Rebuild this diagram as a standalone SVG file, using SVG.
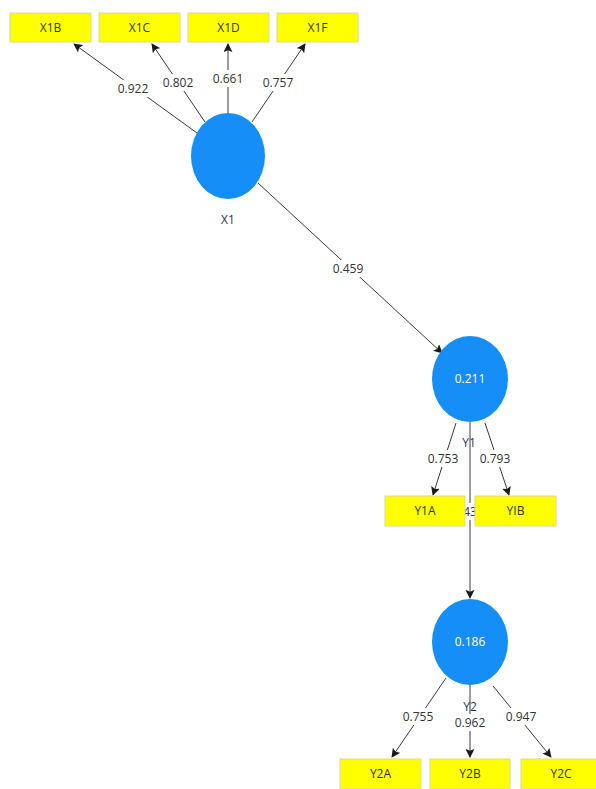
<svg xmlns="http://www.w3.org/2000/svg" width="596" height="789" viewBox="0 0 596 789">
  <style>
    .bg { fill: #ffffff; }
    .ind rect { fill: #ffff00; stroke: #d8d8a0; stroke-width: 1; }
    .ind text { font-family: "Open Sans", "Liberation Sans", sans-serif; font-size: 12px; fill: #333333; text-anchor: middle; }
    .lat ellipse { fill: #168ef7; }
    .lat .r2 { font-family: "Open Sans", "Liberation Sans", sans-serif; font-size: 12px; fill: #ffffff; text-anchor: middle; }
    .lat .name { font-family: "Open Sans", "Liberation Sans", sans-serif; font-size: 12px; fill: #333355; text-anchor: middle; }
    .edge line { stroke: #3a3a3a; stroke-width: 1; marker-end: url(#arrow); }
    .lbl rect { fill: #ffffff; }
    .lbl text { font-family: "Open Sans", "Liberation Sans", sans-serif; font-size: 12px; fill: #333333; text-anchor: middle; }
  </style>
  <defs>
    <marker id="arrow" viewBox="0 0 10 10" refX="9" refY="5" markerWidth="9" markerHeight="9" markerUnits="userSpaceOnUse" orient="auto">
      <path d="M0,0 L10,5 L0,10 L2,5 Z" fill="#1a1a1a"/>
    </marker>
  </defs>
  <rect class="bg" x="0" y="0" width="596" height="789"/>

  <!-- connectors with their path coefficients / loadings -->
  <g id="connectors">
    <g class="edge">
      <line x1="197" y1="133" x2="74" y2="44"/>
      <line x1="205" y1="122" x2="152" y2="44"/>
      <line x1="228" y1="113" x2="228" y2="44"/>
      <line x1="252" y1="122" x2="305" y2="44"/>
      <line x1="258" y1="183" x2="442" y2="353"/>
      <line x1="456" y1="423" x2="433" y2="495"/>
      <line x1="485" y1="423" x2="509" y2="495"/>
      <line x1="470" y1="422" x2="470" y2="598"/>
      <line x1="446" y1="678" x2="392" y2="757"/>
      <line x1="470" y1="685" x2="470" y2="757"/>
      <line x1="493" y1="686" x2="551" y2="757"/>
    </g>
    <g class="lbl">
      <rect x="115" y="80" width="36" height="17"/>
      <text x="133" y="93">0.922</text>
      <rect x="160" y="74" width="36" height="17"/>
      <text x="178" y="87">0.802</text>
      <rect x="210" y="70" width="36" height="17"/>
      <text x="228" y="83">0.661</text>
      <rect x="260" y="74" width="36" height="17"/>
      <text x="278" y="87">0.757</text>
      <rect x="330" y="260" width="36" height="17"/>
      <text x="348" y="273">0.459</text>
      <rect x="425" y="450" width="36" height="17"/>
      <text x="443" y="463">0.753</text>
      <rect x="477" y="450" width="36" height="17"/>
      <text x="495" y="463">0.793</text>
      <rect x="462" y="503" width="16" height="17"/>
      <text x="470" y="516">43</text>
      <rect x="400" y="708" width="36" height="17"/>
      <text x="418" y="721">0.755</text>
      <rect x="452" y="714" width="36" height="17"/>
      <text x="470" y="727">0.962</text>
      <rect x="503" y="708" width="36" height="17"/>
      <text x="521" y="721">0.947</text>
    </g>
  </g>

  <!-- latent constructs -->
  <g id="X1" class="lat">
    <ellipse cx="228" cy="156" rx="37" ry="43"/>
    <text class="name" x="228" y="224">X1</text>
  </g>
  <g id="Y1" class="lat">
    <ellipse cx="470" cy="379" rx="38" ry="43"/>
    <text class="r2" x="470" y="383">0.211</text>
    <text class="name" x="469" y="447">Y1</text>
  </g>
  <g id="Y2" class="lat">
    <ellipse cx="470" cy="642" rx="38" ry="43"/>
    <text class="r2" x="470" y="646">0.186</text>
    <text class="name" x="470" y="711">Y2</text>
  </g>

  <!-- indicators -->
  <g id="X1B" class="ind"><rect x="10" y="13" width="81" height="29"/><text x="50.5" y="32">X1B</text></g>
  <g id="X1C" class="ind"><rect x="99" y="13" width="81" height="29"/><text x="139.5" y="32">X1C</text></g>
  <g id="X1D" class="ind"><rect x="188" y="13" width="81" height="29"/><text x="228.5" y="32">X1D</text></g>
  <g id="X1F" class="ind"><rect x="277" y="13" width="81" height="29"/><text x="317.5" y="32">X1F</text></g>
  <g id="Y1A" class="ind"><rect x="385" y="496" width="80" height="30"/><text x="425" y="515">Y1A</text></g>
  <g id="YIB" class="ind"><rect x="475" y="496" width="81" height="30"/><text x="515.5" y="515">YIB</text></g>
  <g id="Y2A" class="ind"><rect x="340" y="759" width="81" height="30"/><text x="380.5" y="778">Y2A</text></g>
  <g id="Y2B" class="ind"><rect x="430" y="759" width="80" height="30"/><text x="470" y="778">Y2B</text></g>
  <g id="Y2C" class="ind"><rect x="521" y="759" width="80" height="30"/><text x="561" y="778">Y2C</text></g>
</svg>
